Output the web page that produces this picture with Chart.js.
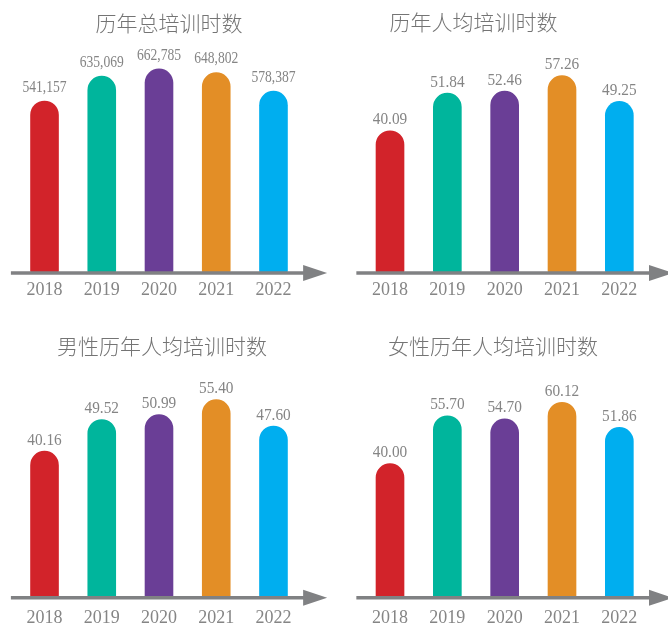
<!DOCTYPE html>
<html>
<head>
<meta charset="utf-8">
<script src="https://cdn.jsdelivr.net/npm/chart.js@4/dist/chart.umd.min.js"></script>
<style>
  html, body { margin: 0; padding: 0; background: #ffffff; }
  body { width: 668px; height: 626px; position: relative; overflow: hidden; }
  .cell { position: absolute; }
  canvas { display: block; }
</style>
</head>
<body>
<div class="cell" style="left:0;top:0;"><canvas id="c1" width="334" height="313"></canvas></div>
<div class="cell" style="left:334px;top:0;"><canvas id="c2" width="334" height="313"></canvas></div>
<div class="cell" style="left:0;top:313px;"><canvas id="c3" width="334" height="330"></canvas></div>
<div class="cell" style="left:334px;top:313px;"><canvas id="c4" width="334" height="330"></canvas></div>
<script>
// ---- data ----
const years = ['2018', '2019', '2020', '2021', '2022'];
const totalHours = [541157, 635069, 662785, 648802, 578387];
const avgHours = [40.09, 51.84, 52.46, 57.26, 49.25];
const maleAvgHours = [40.16, 49.52, 50.99, 55.40, 47.60];
const femaleAvgHours = [40.00, 55.70, 54.70, 60.12, 51.86];
const titles = ['历年总培训时数', '历年人均培训时数', '男性历年人均培训时数', '女性历年人均培训时数'];
const barColors = ['#d2232a', '#00b59c', '#6a3e96', '#e38e26', '#00aeef'];

const GREY = '#858585';

const decorPlugin = {
  id: 'decor',
  afterDatasetsDraw(chart, args, opts) {
    const ctx = chart.ctx;
    const a = chart.chartArea;
    ctx.save();
    // axis line with arrow
    ctx.strokeStyle = '#808183';
    ctx.fillStyle = '#808183';
    ctx.lineWidth = 3.5;
    ctx.beginPath();
    ctx.moveTo(a.left - 5, a.bottom);
    ctx.lineTo(a.right + 4, a.bottom);
    ctx.stroke();
    ctx.beginPath();
    ctx.moveTo(a.right + 1, a.bottom - 8);
    ctx.lineTo(a.right + 25, a.bottom);
    ctx.lineTo(a.right + 1, a.bottom + 8);
    ctx.closePath();
    ctx.fill();
    // value labels
    const meta = chart.getDatasetMeta(0);
    const values = chart.data.datasets[0].data;
    ctx.fillStyle = GREY;
    ctx.font = '17px "Liberation Serif", serif';
    ctx.textAlign = 'center';
    ctx.textBaseline = 'alphabetic';
    meta.data.forEach((bar, i) => {
      const v = values[i];
      const txt = opts.thousands ? v.toLocaleString('en-US') : v.toFixed(2);
      ctx.save();
      ctx.translate(bar.x, bar.y - opts.gap);
      ctx.scale(opts.squeeze, 1);
      ctx.fillText(txt, 0, 0);
      ctx.restore();
    });
    // title
    ctx.fillStyle = '#747474';
    ctx.font = '300 21px "Noto Sans CJK SC", sans-serif';
    ctx.textAlign = 'center';
    ctx.textBaseline = 'middle';
    ctx.fillText(opts.title, opts.titleX, opts.titleY);
    ctx.restore();
  }
};

function makeChart(id, values, title, cfg) {
  new Chart(document.getElementById(id), {
    type: 'bar',
    data: {
      labels: years,
      datasets: [{
        data: values,
        base: cfg.min,
        backgroundColor: barColors,
        borderWidth: 0,
        borderSkipped: false,
        borderRadius: { topLeft: 15, topRight: 15, bottomLeft: 2, bottomRight: 2 },
        barPercentage: 0.5,
        categoryPercentage: 1.0
      }]
    },
    options: {
      responsive: false,
      animation: false,
      layout: { padding: cfg.padding },
      plugins: {
        legend: { display: false },
        tooltip: { enabled: false },
        title: { display: false },
        decor: {
          title: title,
          titleX: cfg.titleX,
          titleY: cfg.titleY,
          gap: cfg.gap,
          squeeze: cfg.squeeze,
          thousands: cfg.thousands
        }
      },
      scales: {
        x: {
          grid: { display: false, drawTicks: false },
          border: { display: false },
          ticks: {
            padding: cfg.tickPad,
            color: GREY,
            autoSkip: false,
            maxRotation: 0,
            font: { family: '"Liberation Serif", serif', size: 18 }
          }
        },
        y: {
          display: false,
          min: cfg.min,
          max: cfg.max
        }
      }
    },
    plugins: [decorPlugin]
  });
}

makeChart('c1', totalHours, titles[0], {
  padding: { left: 15.9, right: 31.9, top: 40, bottom: 6.4 },
  min: -111200, max: 770800, tickPad: 6,
  titleX: 169, titleY: 23, gap: 9, squeeze: 0.8, thousands: true
});
makeChart('c2', avgHours, titles[1], {
  padding: { left: 27.35, right: 20, top: 40, bottom: 6.4 },
  min: -4.38, max: 68.27, tickPad: 6,
  titleX: 139.5, titleY: 22, gap: 6, squeeze: 0.9, thousands: false
});
makeChart('c3', maleAvgHours, titles[2], {
  padding: { left: 15.9, right: 31.9, top: 40, bottom: 5.2 },
  min: -3.26, max: 69.07, tickPad: 9.2,
  titleX: 162, titleY: 33.3, gap: 6, squeeze: 0.9, thousands: false
});
makeChart('c4', femaleAvgHours, titles[3], {
  padding: { left: 27.35, right: 20, top: 40, bottom: 5.2 },
  min: -4.06, max: 76.14, tickPad: 9.2,
  titleX: 159, titleY: 33, gap: 6, squeeze: 0.9, thousands: false
});
</script>
</body>
</html>
